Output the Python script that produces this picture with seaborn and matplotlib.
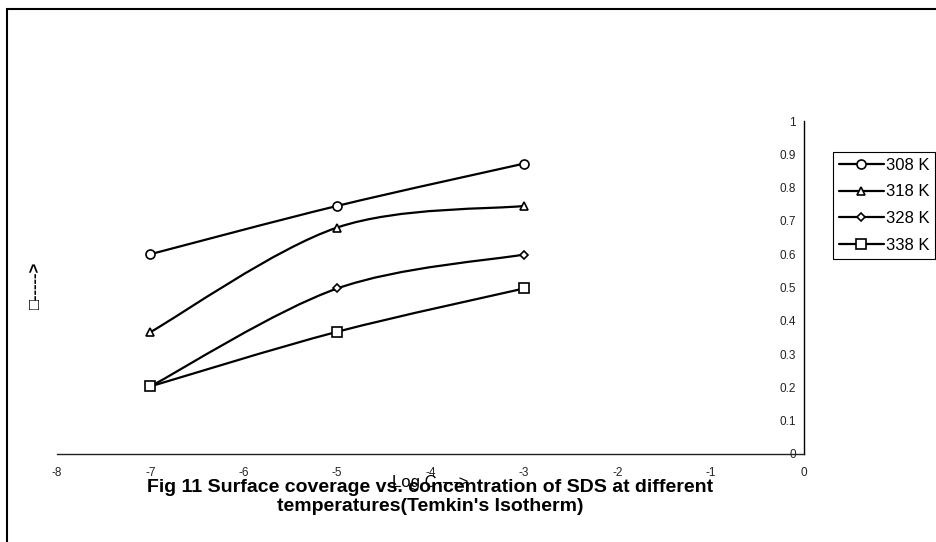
import matplotlib
matplotlib.use("Agg")
import matplotlib.pyplot as plt
import matplotlib.patches as mpatches
from matplotlib.lines import Line2D
from matplotlib.path import Path
import pandas as pd
import seaborn as sns

# data
log_c = [-7, -5, -3]
temps = ["308 K", "318 K", "328 K", "338 K"]
theta_308 = [0.600, 0.745, 0.872]
theta_318 = [0.366, 0.680, 0.745]
theta_328 = [0.203, 0.497, 0.599]
theta_338 = [0.203, 0.367, 0.497]
x_ticks = [-8, -7, -6, -5, -4, -3, -2, -1, 0]
y_ticks = [0, 0.1, 0.2, 0.3, 0.4, 0.5, 0.6, 0.7, 0.8, 0.9, 1]

markers = ["o", "^", "D", "s"]
msizes = [6.5, 6.0, 4.5, 6.5]

sns.set_style("white")
plt.rcParams["font.family"] = ["Liberation Sans", "DejaVu Sans"]
plt.rcParams["text.color"] = "black"

df = pd.DataFrame({
    "logC": log_c * 4,
    "theta": theta_308 + theta_318 + theta_328 + theta_338,
    "temp": [t for t in temps for _ in log_c],
})

fig = plt.figure(figsize=(9.36, 5.42), dpi=100)
ax = fig.add_axes([57 / 936, 1 - 454 / 542, (804 - 57) / 936, (454 - 121) / 542])

sns.lineplot(data=df, x="logC", y="theta", hue="temp", style="temp",
             hue_order=temps, style_order=temps,
             palette=["black"] * 4, markers=markers, dashes=False,
             markerfacecolor="white", markeredgecolor="black",
             markeredgewidth=1.2, legend=False, ax=ax, zorder=3)

# Excel style smoothed lines through the points, markers kept on top
for line, ms in zip(ax.lines, msizes):
    xs, ys = line.get_xdata(), line.get_ydata()
    line.set_linestyle("none")
    line.set_markersize(ms)
    pts = list(zip(xs, ys))
    verts, codes = [pts[0]], [Path.MOVETO]
    for i in range(len(pts) - 1):
        p0 = pts[i - 1] if i > 0 else pts[i]
        p1, p2 = pts[i], pts[i + 1]
        p3 = pts[i + 2] if i + 2 < len(pts) else pts[i + 1]
        c1 = (p1[0] + (p2[0] - p0[0]) / 6, p1[1] + (p2[1] - p0[1]) / 6)
        c2 = (p2[0] - (p3[0] - p1[0]) / 6, p2[1] - (p3[1] - p1[1]) / 6)
        verts += [c1, c2, p2]
        codes += [Path.CURVE4] * 3
    ax.add_patch(mpatches.PathPatch(Path(verts, codes), fill=False,
                                    edgecolor="black", lw=1.6, zorder=2))

ax.set_xlim(-8, 0)
ax.set_ylim(0, 1)
ax.set_xticks(x_ticks)
ax.set_xticklabels([str(v) for v in x_ticks])
ax.set_yticks(y_ticks)
ax.set_yticklabels(["0", "0.1", "0.2", "0.3", "0.4", "0.5", "0.6", "0.7", "0.8", "0.9", "1"])

for s in ["top", "right"]:
    ax.spines[s].set_visible(False)
ax.spines["left"].set_position(("axes", 1.0))
ax.spines["left"].set_color("black")
ax.spines["bottom"].set_color("#222222")
ax.spines["left"].set_linewidth(1.0)
ax.spines["bottom"].set_linewidth(1.0)
ax.tick_params(axis="both", direction="out", length=3, width=0.8,
               labelsize=8.5, labelcolor="#222222", color="black", pad=3)
ax.tick_params(axis="x", pad=6)

ax.set_xlabel("")
ax.set_ylabel("")
fig.text(35 / 936, 1 - 285 / 542, "□----->", rotation=90, ha="center", va="center",
         fontsize=12, fontweight="bold", family=["Liberation Sans", "DejaVu Sans"])

fig.text(430 / 936, 1 - 497 / 542,
         "Fig 11 Surface coverage vs. concentration of SDS at different\ntemperatures(Temkin's Isotherm)",
         ha="center", va="center", fontsize=14, fontweight="bold", linespacing=1.1)
# axis title sits on top of the caption in the original
fig.text(430 / 936, 1 - 483 / 542, "Log C---->", ha="center", va="center",
         fontsize=12, zorder=5)

handles = [Line2D([], [], color="black", lw=1.6, marker=m, ms=ms,
                  markerfacecolor="white", markeredgecolor="black", markeredgewidth=1.2)
           for m, ms in zip(markers, msizes)]
leg = fig.legend(handles, temps, loc="upper left",
                 bbox_to_anchor=(833 / 936, 1 - 152 / 542), bbox_transform=fig.transFigure,
                 fontsize=12, frameon=True, fancybox=False, framealpha=1,
                 edgecolor="black", handlelength=2.7, handletextpad=0.12,
                 labelspacing=0.7, borderpad=0.35, borderaxespad=0)
leg.get_frame().set_linewidth(0.8)

# outer chart border (right and bottom fall off the picture)
fig.patches.append(mpatches.Rectangle((7 / 936, -0.2), 1.2, 1.2 - 9 / 542,
                                      transform=fig.transFigure, fill=False,
                                      edgecolor="black", lw=1.5))

fig.savefig("out.png", dpi=100)
